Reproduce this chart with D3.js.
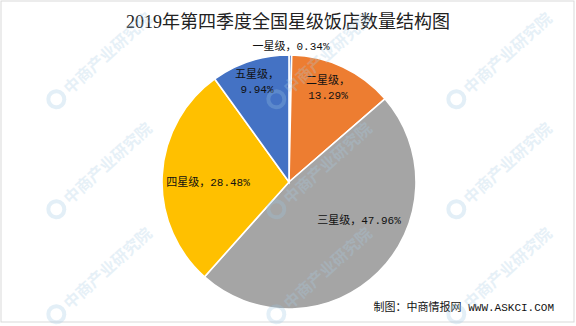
<!DOCTYPE html>
<html lang="zh">
<head>
  <meta charset="UTF-8">
  <title>2019年第四季度全国星级饭店数量结构图</title>
  <style>
    body { margin: 0; padding: 0; background: white; }
    #chart svg { display: block; }
    .title { font-family: "Liberation Serif", "Noto Sans CJK SC", serif; font-size: 18px; fill: #222; }
    .label { font-family: "Liberation Mono", "Noto Sans CJK SC", monospace; font-size: 11px; fill: #111; }
    .source { font-family: "Liberation Mono", "Noto Sans CJK SC", monospace; font-size: 11px; fill: #111; }
    .wm { font-family: "Noto Sans CJK SC", sans-serif; font-size: 16px; font-weight: bold; fill: #a9cde6; opacity: 0.28; }
  </style>
</head>
<body>
  <div id="chart"></div>
  <script src="https://d3js.org/d3.v7.min.js"></script>
  <script>
    var categories = ["一星级", "二星级", "三星级", "四星级", "五星级"];
    var shares = [0.34, 13.29, 47.96, 28.48, 9.94];
    var colors = ["#4472C4", "#ED7D31", "#A5A5A5", "#FFC000", "#4472C4"];
    var titleText = "2019年第四季度全国星级饭店数量结构图";
    var sourceText = "制图：中商情报网 WWW.ASKCI.COM";

    // label anchor: offset from the pie centre, one or two lines
    var labelPos = [
      {dx: 2, dy: -136, lines: 1},
      {dx: 39, dy: -96, lines: 2},
      {dx: 70, dy: 38, lines: 1},
      {dx: -81, dy: 0, lines: 1},
      {dx: -32, dy: -102, lines: 2}
    ];

    var width = 576, height = 326;
    var cx = 289, cy = 182, radius = 127;

    var svg = d3.select("#chart").append("svg")
      .attr("width", width)
      .attr("height", height);

    svg.append("rect")
      .attr("x", 1).attr("y", 1)
      .attr("width", 573).attr("height", 321)
      .attr("fill", "white")
      .attr("stroke", "#d9d9d9");

    svg.append("text")
      .attr("class", "title")
      .attr("x", 288).attr("y", 28)
      .attr("text-anchor", "middle")
      .text(titleText);

    var pie = d3.pie().sort(null).value(function(d) { return d; });
    var arc = d3.arc().innerRadius(0).outerRadius(radius);

    var g = svg.append("g").attr("transform", "translate(" + cx + "," + cy + ")");

    g.selectAll("path")
      .data(pie(shares))
      .enter().append("path")
      .attr("d", arc)
      .attr("fill", function(d, i) { return colors[i]; })
      .attr("stroke", "white")
      .attr("stroke-width", 1.6);

    var labels = g.selectAll(".label")
      .data(categories)
      .enter().append("text")
      .attr("class", "label")
      .attr("text-anchor", "middle")
      .attr("transform", function(d, i) { return "translate(" + labelPos[i].dx + "," + labelPos[i].dy + ")"; });

    labels.each(function(d, i) {
      var t = d3.select(this);
      var pct = shares[i].toFixed(2) + "%";
      if (labelPos[i].lines === 2) {
        t.append("tspan").attr("x", 0).attr("dy", "-0.2em").text(d + "，");
        t.append("tspan").attr("x", 0).attr("dy", "1.4em").text(pct);
      } else {
        t.append("tspan").attr("x", 0).attr("dy", "0.35em").text(d + "，" + pct);
      }
    });

    svg.append("text")
      .attr("class", "source")
      .attr("x", 554).attr("y", 311)
      .attr("text-anchor", "end")
      .text(sourceText);

    // faint watermark grid
    var wmX = [70, 290, 470];
    var wmY = [95, 205, 310];
    wmX.forEach(function(x) {
      wmY.forEach(function(y) {
        var w = svg.append("g").attr("transform", "translate(" + x + "," + y + ") rotate(-42)");
        w.append("circle").attr("cx", -13).attr("cy", -6).attr("r", 8)
          .attr("fill", "none").attr("stroke", "#9cc6e4").attr("stroke-width", 4).attr("opacity", 0.28);
        w.append("text").attr("class", "wm").attr("x", 0).attr("y", 0).text("中商产业研究院");
      });
    });
  </script>
</body>
</html>
